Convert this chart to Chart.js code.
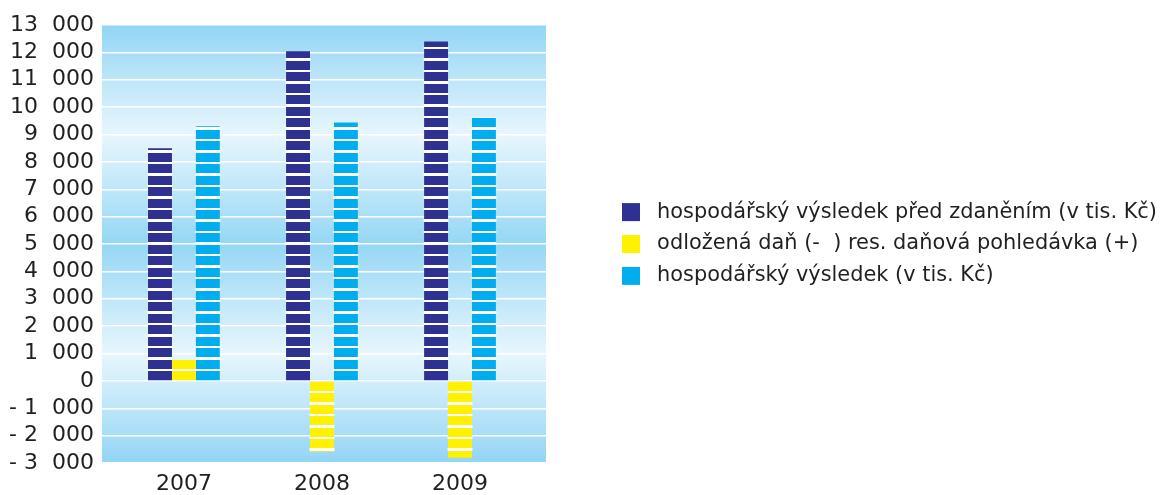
<!DOCTYPE html>
<html>
<head>
<meta charset="utf-8">
<script src="https://cdn.jsdelivr.net/npm/chart.js@4/dist/chart.umd.min.js"></script>
<style>
  html, body { margin: 0; padding: 0; background: #fff; }
</style>
</head>
<body>
<canvas id="chart" width="1160" height="495"></canvas>
<script>
const years = ["2007", "2008", "2009"];
const profitBeforeTax = [8500, 12040, 12400];
const deferredTax = [760, -2590, -2810];
const profit = [9300, 9440, 9630];
const seriesLabels = [
  "hospodářský výsledek před zdaněním (v tis. Kč)",
  "odložená daň (-  ) res. daňová pohledávka (+)",
  "hospodářský výsledek (v tis. Kč)"
];

const font = "DejaVu Sans";
const textColor = "#231f20";

// thousands separated by figure space, minus written as "- "
function fmt(v) {
  const s = Math.abs(v).toString().replace(/\B(?=(\d{3})+(?!\d))/g, "\u2007");
  return v < 0 ? "- " + s : s;
}

function points(values) {
  return values.map((v, i) => ({ x: i, y: v }));
}

// light blue background, dark at 13 000 / 5 000 / -3 000, light at 9 000 / 1 000
const backdrop = {
  id: "backdrop",
  beforeDraw(chart) {
    const { ctx, chartArea: a, scales: { y } } = chart;
    const top = y.getPixelForValue(13000);
    const bottom = y.getPixelForValue(-3000);
    const g = ctx.createLinearGradient(0, top, 0, bottom);
    const stops = [[13000, "#92d5f5"], [9000, "#e8f6fd"], [5000, "#95d7f5"], [1000, "#e8f6fd"], [-3000, "#92d5f5"]];
    stops.forEach(([v, c]) => g.addColorStop((y.getPixelForValue(v) - top) / (bottom - top), c));
    ctx.save();
    ctx.fillStyle = g;
    ctx.fillRect(a.left, a.top, a.right - a.left, a.bottom - a.top);
    ctx.restore();
  }
};

// white horizontal gaps in the bars
const stripes = {
  id: "stripes",
  afterDatasetsDraw(chart) {
    const ctx = chart.ctx;
    ctx.save();
    ctx.fillStyle = "#fff";
    chart.data.datasets.forEach((ds, i) => {
      chart.getDatasetMeta(i).data.forEach(bar => {
        const { x, y, base, width } = bar.getProps(["x", "y", "base", "width"], true);
        const dir = y < base ? -1 : 1;
        const len = Math.abs(y - base);
        for (let d = 9; d < len; d += 11.5) {
          const a = base + dir * d;
          const b = base + dir * Math.min(d + 2.5, len);
          const t = Math.round(Math.min(a, b));
          const h = Math.round(Math.max(a, b)) - t;
          ctx.fillRect(x - width / 2 - 0.5, t, width + 1, h);
        }
      });
    });
    ctx.restore();
  }
};

// Chart.js caps a side legend at a fraction of the width; let it take what it needs
const wideLegend = {
  id: "wideLegend",
  beforeLayout(chart) {
    const lg = chart.legend;
    if (lg && !lg._wide) {
      const update = lg.update.bind(lg);
      lg.update = (w, h, m) => update(Math.max(w, 620), h, m);
      lg._wide = true;
    }
  }
};

new Chart(document.getElementById("chart"), {
  type: "bar",
  data: {
    datasets: [
      { label: seriesLabels[0], data: points(profitBeforeTax), backgroundColor: "#2e3192" },
      { label: seriesLabels[1], data: points(deferredTax), backgroundColor: "#fff200" },
      { label: seriesLabels[2], data: points(profit), backgroundColor: "#00aeef" }
    ]
  },
  options: {
    responsive: false,
    animation: false,
    devicePixelRatio: 1,
    layout: { padding: { top: 25, left: 1, right: -7, bottom: 0 } },
    datasets: { bar: { barPercentage: 1, categoryPercentage: 0.52 } },
    scales: {
      x: {
        type: "linear",
        offset: false,
        min: -0.594,
        max: 2.623,
        grid: { display: false, drawTicks: false, offset: false },
        border: { display: false },
        ticks: {
          stepSize: 1,
          includeBounds: false,
          padding: 10,
          color: textColor,
          font: { family: font, size: 22, lineHeight: 1 },
          callback: v => Number.isInteger(v) ? years[v] : ""
        },
        afterFit: s => { s.height = 32; }
      },
      y: {
        min: -3000,
        max: 13000,
        grid: { color: "#ffffff", lineWidth: 1.5, drawTicks: false },
        border: { display: false },
        ticks: {
          stepSize: 1000,
          padding: 8,
          color: textColor,
          font: { family: font, size: 22, lineHeight: 1 },
          callback: v => fmt(v)
        }
      },
      gap: {
        type: "linear",
        position: "right",
        grid: { display: false },
        border: { display: false },
        ticks: { display: false },
        afterFit: s => { s.width = 65; }
      }
    },
    plugins: {
      tooltip: { enabled: false },
      legend: {
        position: "right",
        fullSize: false,
        labels: {
          boxWidth: 18,
          boxHeight: 18,
          padding: 11,
          color: textColor,
          font: { family: font, size: 20.9 },
          generateLabels: chart => Chart.defaults.plugins.legend.labels.generateLabels(chart)
            .map(item => Object.assign(item, { text: " " + item.text, lineWidth: 0 }))
        }
      }
    }
  },
  plugins: [backdrop, stripes, wideLegend]
});
</script>
</body>
</html>
